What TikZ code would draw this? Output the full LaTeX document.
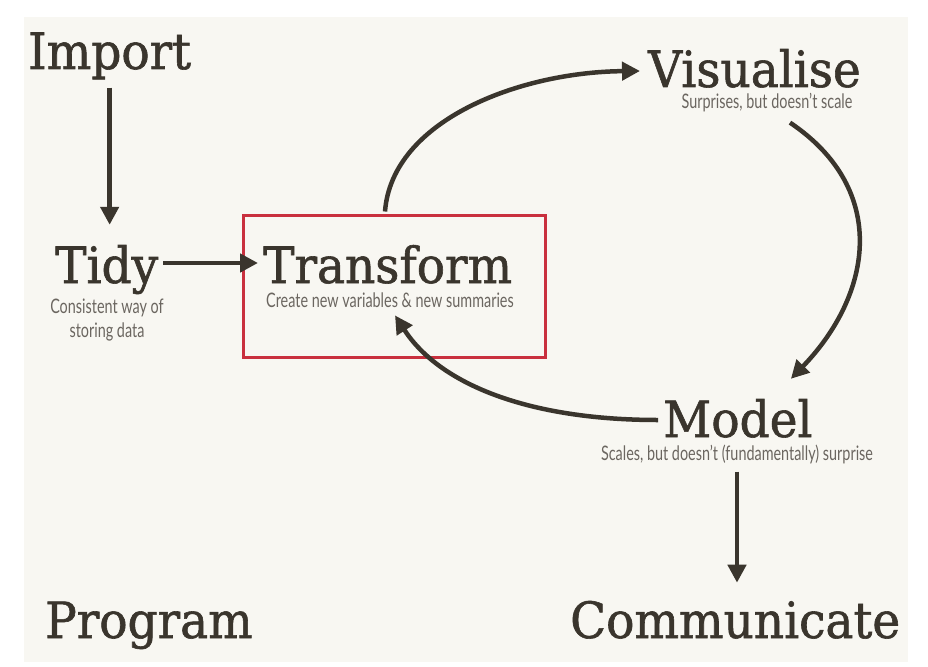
\documentclass[tikz,border=0pt]{standalone}
\usepackage{fontspec}
\usetikzlibrary{arrows.meta}
\newfontfamily\titlefont[FakeStretch=0.94,FakeBold=1.2]{DejaVu Serif}
\newfontfamily\subfont[FakeStretch=0.72]{Lato}
\definecolor{ink}{HTML}{3A352D}
\definecolor{subgrey}{HTML}{6B6660}
\definecolor{paper}{HTML}{F8F7F2}
\definecolor{hilite}{HTML}{C9303E}
\tikzset{
  title/.style={inner sep=0pt, anchor=base west, text=ink, font=\titlefont\fontsize{50}{60}\selectfont},
  subtitle/.style={inner sep=0pt, anchor=base, text=subgrey, align=center, font=\subfont\fontsize{20}{24}\selectfont},
  arr/.style={draw=ink, line width=4.5pt, -{Triangle[length=18pt,width=18pt]}},
  hibox/.style={draw=hilite, line width=3pt, minimum width=302pt, minimum height=142pt, inner sep=0pt}
}
\begin{document}
\begin{tikzpicture}[x=1pt,y=-1pt]
\useasboundingbox (0,0) rectangle (928,666);
\fill[white] (0,0) rectangle (928,666);
\fill[paper] (24,17) rectangle (908,662);

\node[hibox] (tbox) at (394,286) {};

\node[title] (import) at (28,69) {Import};
\node[title] (tidy) at (55,283) {Tidy};
\node[subtitle] (tidysub) at (107,337) {Consistent way of\\storing data};
\node[title] (trans) at (263,283) {Transform};
\node[subtitle] (transsub) at (390,307) {Create new variables \& new summaries};
\node[title] (vis) at (648,87) {Visualise};
\node[subtitle] (vissub) at (767,109) {Surprises, but doesn’t scale};
\node[title] (model) at (663,437) {Model};
\node[subtitle] (modsub) at (737,460) {Scales, but doesn’t (fundamentally) surprise};
\node[title] (prog) at (45,638) {Program};
\node[title] (comm) at (570,638) {Communicate};

\draw[arr, shorten <=8pt, shorten >=20pt] (import.south) -- (import.south |- tidy.north);
\draw[arr, shorten <=5pt, shorten >=5pt] ([yshift=20pt]tidy.base east) -- ([yshift=20pt]trans.base west);
\draw[arr] ([xshift=-9pt,yshift=2pt]tbox.north) .. controls (392,120) and (520,72) .. ([xshift=-8pt,yshift=16pt]vis.base west);
\draw[arr] ([xshift=23pt,yshift=-10pt]vissub.south) .. controls (890,190) and (872,295) .. ([xshift=53pt,yshift=20pt]model.north);
\draw[arr] ([xshift=-5pt,yshift=17pt]model.base west) .. controls (530,420) and (440,385) .. ([xshift=5pt,yshift=-8pt]transsub.south);
\draw[arr, shorten <=8pt, shorten >=18pt] (modsub.south) -- (modsub.south |- comm.north);
\end{tikzpicture}
\end{document}
